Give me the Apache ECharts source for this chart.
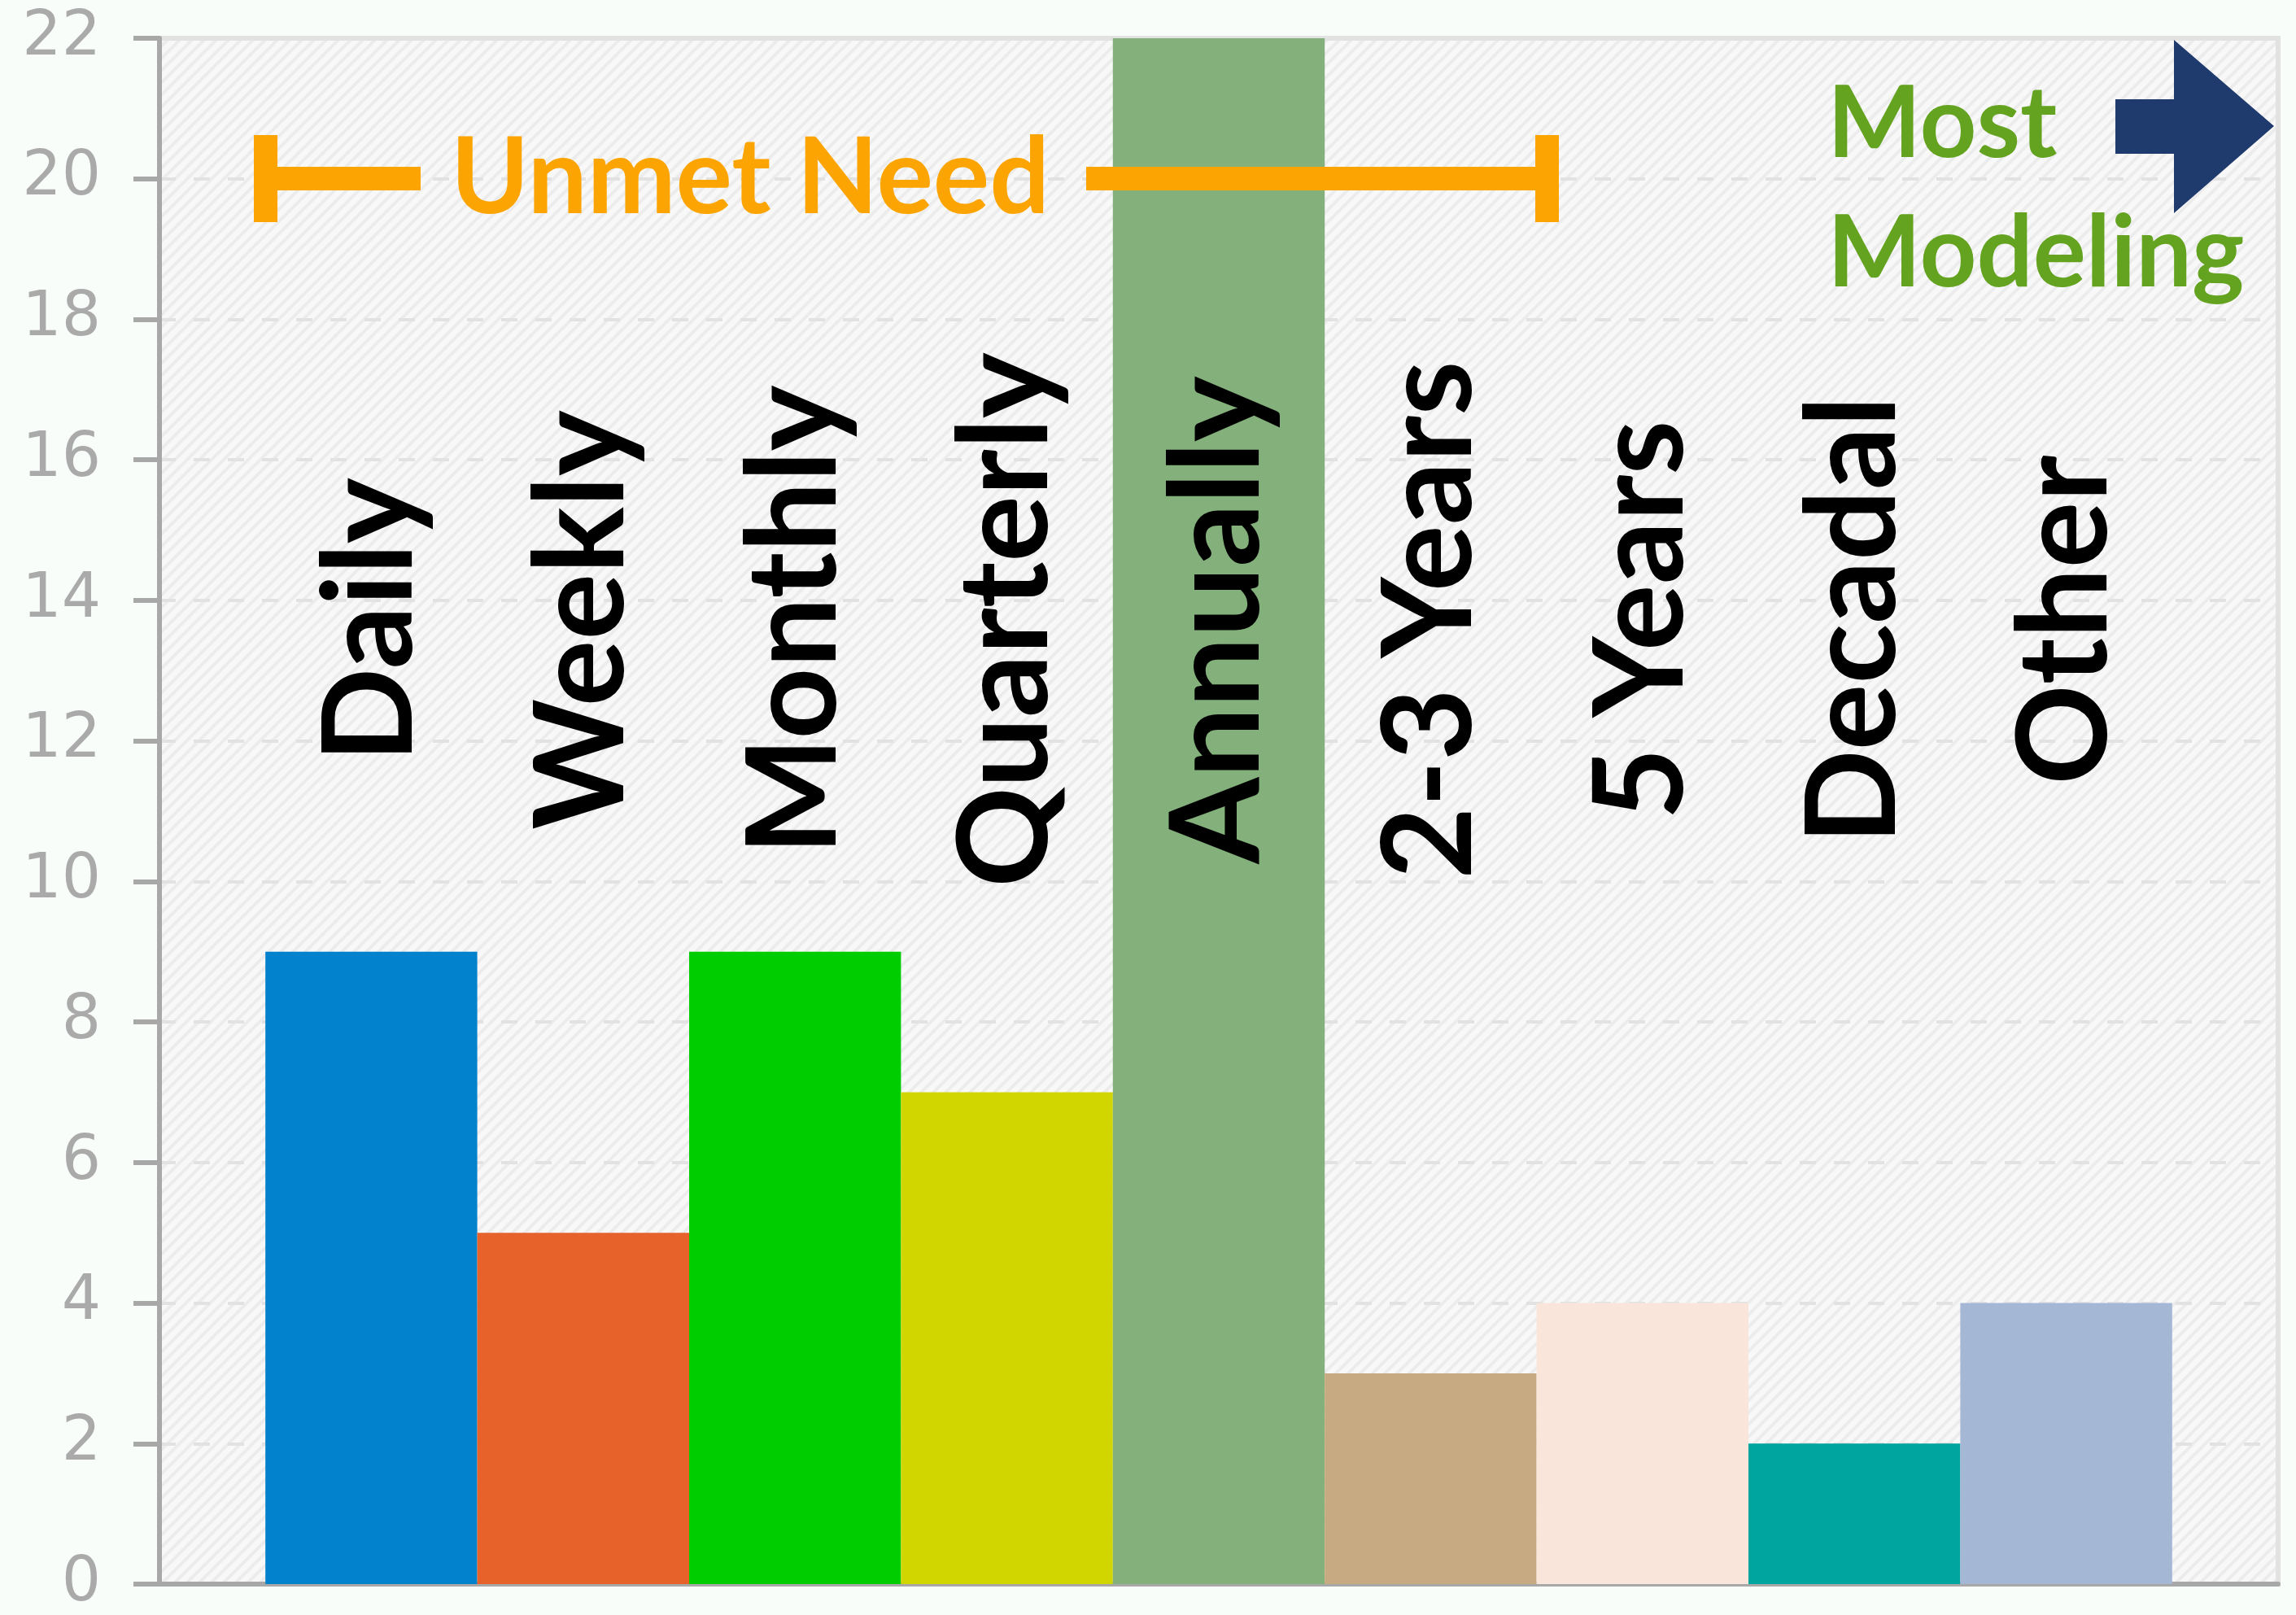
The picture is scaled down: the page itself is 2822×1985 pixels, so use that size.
<!DOCTYPE html>
<html>
<head>
<meta charset="utf-8">
<script src="https://cdn.jsdelivr.net/npm/echarts@6/dist/echarts.min.js"></script>
<style>
    html, body { margin: 0; padding: 0; background: #f9fdf9; }
    #chart { width: 2822px; height: 1985px; }
</style>
</head>
<body>
<div id="chart"></div>
<script>
// bar data
const categories = ['Daily', 'Weekly', 'Monthly', 'Quarterly', 'Annually', '2-3 Years', '5 Years', 'Decadal', 'Other'];
const counts = [9, 5, 9, 7, 22, 3, 4, 2, 4];
const barColors = ['#0281cd', '#e7612b', '#00cd00', '#d2d600', '#83b07b', '#c8aa82', '#fae5da', '#00a59f', '#a4b8d5'];
const yTicks = [0, 2, 4, 6, 8, 10, 12, 14, 16, 18, 20, 22];

// where the rotated names sit (value on y axis)
const labelLevel = 13.72;

// striped plot background
function makeHatch() {
    const s = 15;
    const c = document.createElement('canvas');
    c.width = s; c.height = s;
    const ctx = c.getContext('2d');
    ctx.fillStyle = '#f8f8f8';
    ctx.fillRect(0, 0, s, s);
    ctx.strokeStyle = '#ececec';
    ctx.lineWidth = 4;
    ctx.beginPath();
    ctx.moveTo(-2, s + 2); ctx.lineTo(s + 2, -2);
    ctx.moveTo(-2, 2); ctx.lineTo(2, -2);
    ctx.moveTo(s - 2, s + 2); ctx.lineTo(s + 2, s - 2);
    ctx.stroke();
    return c;
}

const orange = '#fca502';
const chart = echarts.init(document.getElementById('chart'));

const option = {
    backgroundColor: '#f9fdf9',
    animation: false,
    grid: {
        left: 196, right: 22, top: 47, bottom: 28,
        show: true,
        backgroundColor: { image: makeHatch(), repeat: 'repeat' },
        borderColor: '#e2e2e2',
        borderWidth: 6
    },
    xAxis: {
        type: 'value',
        min: 0,
        max: categories.length + 1,
        axisLine: { show: true, onZero: false, lineStyle: { color: '#a8a8a8', width: 6 } },
        axisTick: { show: false },
        axisLabel: { show: false },
        splitLine: { show: false }
    },
    yAxis: {
        type: 'value',
        min: yTicks[0],
        max: yTicks[yTicks.length - 1],
        interval: 2,
        axisLine: { show: true, lineStyle: { color: '#a8a8a8', width: 6 } },
        axisTick: { show: true, length: 32, lineStyle: { color: '#a8a8a8', width: 6 } },
        axisLabel: {
            margin: 72,
            fontFamily: 'DejaVu Sans',
            fontSize: 76,
            color: '#aaaaaa'
        },
        splitLine: { show: true, lineStyle: { color: '#e2e2e2', width: 4, type: [20, 22] } }
    },
    series: [
        {
            type: 'bar',
            barWidth: '100%',
            data: categories.map((c, i) => ({
                value: [i + 1, counts[i]],
                itemStyle: { color: barColors[i] }
            })),
            z: 2
        },
        {
            type: 'scatter',
            symbolSize: 0,
            silent: true,
            itemStyle: { color: '#000', opacity: 1 },
            data: categories.map((c, i) => ({ value: [i + 1, labelLevel], name: c })),
            label: {
                show: true,
                position: 'inside',
                rotate: 90,
                formatter: p => p.name,
                fontFamily: 'Lato',
                fontWeight: 'bold',
                fontSize: 153,
                color: '#000000',
                opacity: 1,
                textBorderWidth: 0
            },
            z: 5
        }
    ],
    graphic: [
        // unmet need bracket
        { type: 'rect', z: 100, shape: { x: 312, y: 166, width: 29, height: 107 }, style: { fill: orange } },
        { type: 'rect', z: 100, shape: { x: 341, y: 205, width: 176, height: 29 }, style: { fill: orange } },
        { type: 'rect', z: 100, shape: { x: 1335, y: 205, width: 552, height: 29 }, style: { fill: orange } },
        { type: 'rect', z: 100, shape: { x: 1887, y: 166, width: 29, height: 107 }, style: { fill: orange } },
        {
            type: 'text', z: 100, x: 554, y: 220,
            style: { text: 'Unmet Need', fill: orange, font: 'bold 130px Lato', verticalAlign: 'middle', align: 'left' }
        },
        // most modeling
        {
            type: 'text', z: 100, x: 2246, y: 154,
            style: { text: 'Most', fill: '#63a31f', font: 'bold 122px Lato', verticalAlign: 'middle', align: 'left' }
        },
        {
            type: 'text', z: 100, x: 2246, y: 313,
            style: { text: 'Modeling', fill: '#63a31f', font: 'bold 122px Lato', verticalAlign: 'middle', align: 'left' }
        },
        {
            type: 'polygon', z: 100,
            shape: { points: [[2600, 122], [2672, 122], [2672, 49], [2795, 155], [2672, 262], [2672, 189], [2600, 189]] },
            style: { fill: '#1f3a6d' }
        }
    ]
};

chart.setOption(option);
</script>
</body>
</html>
